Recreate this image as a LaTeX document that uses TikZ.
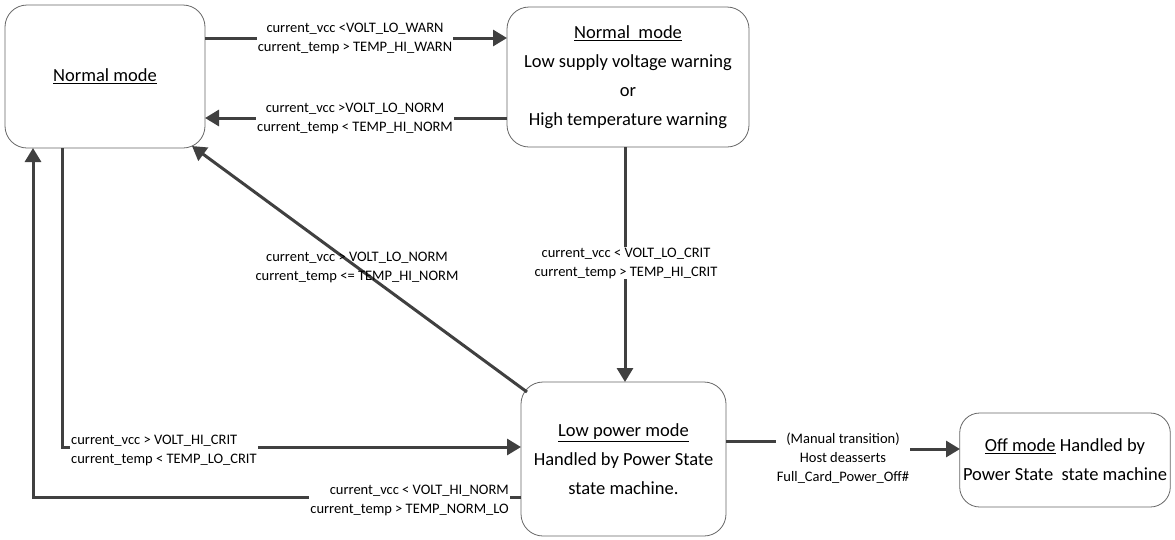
\documentclass[tikz,border=0pt]{standalone}
\usepackage{fontspec}
\setmainfont{Carlito}
\usetikzlibrary{arrows.meta}
\definecolor{ln}{HTML}{404040}
\begin{document}
\begin{tikzpicture}[x=1pt,y=-1pt,
  box/.style={draw=ln!80,line width=0.8pt,rounded corners=22pt,align=center,font=\fontsize{18.5}{29}\selectfont},
  arr/.style={draw=ln,line width=3pt,-{Triangle[length=14pt,width=16pt]}},
  lab/.style={font=\fontsize{14.5}{19}\selectfont,align=center,fill=white,inner sep=1pt}]
\useasboundingbox (0,0) rectangle (1175,539);
\node[box,minimum width=200pt,minimum height=143pt] (A) at (105,76.5) {\underline{Normal mode}};
\node[box,minimum width=242pt,minimum height=140pt] (B) at (628,77) {\underline{Normal\ \ mode}\\Low supply voltage warning\\or\\High temperature warning};
\node[box,minimum width=205pt,minimum height=154pt] (C) at (623.5,459) {\underline{Low power mode}\\Handled by Power\ State\\state machine.};
\node[box,minimum width=210pt,minimum height=94pt,rounded corners=20pt] (D) at (1065,460) {\underline{Off mode} Handled by\\Power\ State\ \ state machine};
% A -> B
\draw[arr] (205,38) -- (507,38);
\node[lab] (l1) at (355,38) {current\_vcc <VOLT\_LO\_WARN\\current\_temp > TEMP\_HI\_WARN};
% B -> A
\draw[arr] (507,118) -- (205,118);
\node[lab] (l2) at (355,118) {current\_vcc >VOLT\_LO\_NORM\\current\_temp < TEMP\_HI\_NORM};
% B -> C
\draw[arr] (625,147) -- (625,382);
\node[lab] (l3) at (626,263) {current\_vcc < VOLT\_LO\_CRIT\\current\_temp > TEMP\_HI\_CRIT};
% C -> A diagonal
\draw[arr] (527,392) -- (192,146);
\node[lab,fill=none] (l4) at (357,267) {current\_vcc > VOLT\_LO\_NORM\\current\_temp <= TEMP\_HI\_NORM};
% A -> C
\draw[arr] (62,148) -- (62,447) -- (521,447);
\node[lab,align=left,anchor=west] (l5) at (70,450) {current\_vcc > VOLT\_HI\_CRIT\\current\_temp < TEMP\_LO\_CRIT};
% C -> A
\draw[arr] (521,497) -- (33,497) -- (33,148);
\node[lab,align=right,anchor=east] (l6) at (510,500) {current\_vcc < VOLT\_HI\_NORM\\current\_temp > TEMP\_NORM\_LO};
% C -> D
\draw[arr] (726,441) -- (895,441) -- (895,449) -- (960,449);
\node[lab] (l7) at (843,458) {(Manual transition)\\Host deasserts\\Full\_Card\_Power\_Off\#};
\end{tikzpicture}
\end{document}
